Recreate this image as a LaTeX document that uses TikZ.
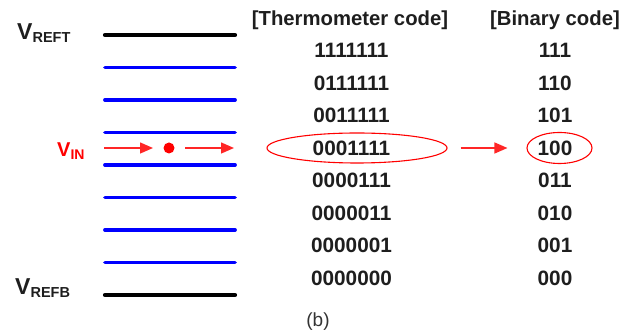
\documentclass[tikz,border=0pt]{standalone}
\usepackage{fontspec}
\setmainfont{Liberation Sans}
\usetikzlibrary{arrows.meta,shapes.geometric}
\definecolor{txt}{HTML}{1E1E1E}
\definecolor{capc}{HTML}{333333}
\definecolor{vred}{HTML}{FF0000}
\begin{document}
\begin{tikzpicture}[x=1pt,y=-1pt,
  refline/.style={line width=4.2pt,line cap=round,black},
  tapline/.style={line width=3.8pt,line cap=round,blue},
  code/.style={inner sep=0pt,text=txt,font=\bfseries\fontsize{20.8}{21}\selectfont},
  head/.style={inner sep=0pt,text=txt,font=\bfseries\fontsize{20.3}{21}\selectfont},
  redarrow/.style={vred!85,line width=1.4pt,-{Triangle[length=13pt,width=11pt]}},
  ring/.style={draw=vred,line width=1.1pt,ellipse,inner sep=0pt},
  lab/.style={inner sep=0pt,anchor=base west,font=\bfseries}]
\useasboundingbox (0,0) rectangle (638,336);
% reference lines
\foreach \i/\y in {0/35,8/295}{
  \coordinate (l\i a) at (105,\y); \coordinate (l\i b) at (235,\y);
  \draw[refline] (l\i a) -- (l\i b);}
\foreach \i/\y in {1/67.5,2/100,3/132.5,4/165,5/197.5,6/230,7/262.5}{
  \coordinate (l\i a) at (105,\y); \coordinate (l\i b) at (235,\y);
  \draw[tapline] (l\i a) -- (l\i b);}
% labels
\node[lab,text=txt] (vreft) at (17,40) {{\fontsize{23}{23}\selectfont V}\raisebox{-2.5pt}{\fontsize{14.5}{15}\selectfont REFT}};
\node[lab,text=txt] (vrefb) at (15,295) {{\fontsize{23}{23}\selectfont V}\raisebox{-2.5pt}{\fontsize{14.5}{15}\selectfont REFB}};
\node[lab,text=vred] (vin) at (57,157) {{\fontsize{20}{20}\selectfont V}\raisebox{-2.5pt}{\fontsize{14}{14}\selectfont IN}};
% input arrows and dot
\coordinate (a1s) at (104,148); \coordinate (a1e) at (153,148);
\coordinate (a2s) at (185,148); \coordinate (a2e) at (234,148);
\draw[redarrow] (a1s) -- (a1e);
\fill[vred] (169,148) circle (5.5pt) coordinate (dot);
\draw[redarrow] (a2s) -- (a2e);
% headers
\node[head] (th) at (350,20) {[Thermometer code]};
\node[head] (bh) at (555,20) {[Binary code]};
% rows
\foreach \k/\t/\b in {0/1111111/111,1/0111111/110,2/0011111/101,3/0001111/100,4/0000111/011,5/0000011/010,6/0000001/001,7/0000000/000}{
  \node[code] (t\k) at (351.5,50.5+32.5*\k) {\t};
  \node[code] (b\k) at (555,50.5+32.5*\k) {\b};}
% rings
\node[ring,minimum width=180pt,minimum height=30pt] (e1) at (357,148) {};
\node[ring,minimum width=65pt,minimum height=31pt] (e2) at (559.5,148) {};
\draw[redarrow,shorten <=13pt,shorten >=19pt] (e1.east) -- (e2.west);
% caption
\node[inner sep=0pt,text=capc,font=\fontsize{19}{19}\selectfont] (cap) at (318,322) {(b)};
\end{tikzpicture}
\end{document}
